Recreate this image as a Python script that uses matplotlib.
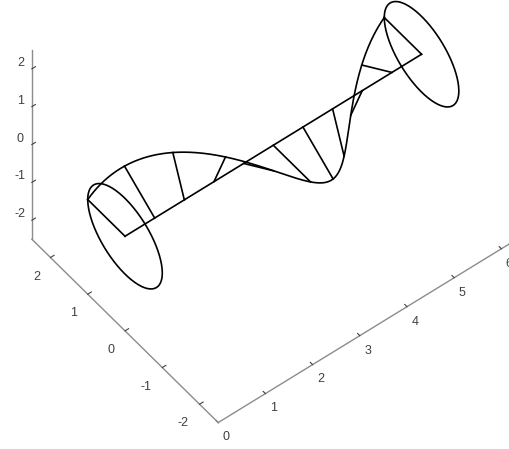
import numpy as np
import matplotlib
matplotlib.use("Agg")
import matplotlib.pyplot as plt

plt.rcParams["axes.unicode_minus"] = False
plt.rcParams["font.family"] = ["Liberation Sans", "DejaVu Sans"]

# Helix parameters: one full turn along x, radius 1
x_start = 0.0
x_end = 2 * np.pi
radius = 1.0
n_stems = 11

x_ticks = [0, 1, 2, 3, 4, 5, 6]
y_ticks = [-2, -1, 0, 1, 2]
z_ticks = [-2, -1, 0, 1, 2]

x_lim = (0, 2 * np.pi)
y_lim = (-2.5, 2.5)
z_lim = (-2.5, 2.5)

fig = plt.figure(figsize=(5.09, 4.49), dpi=100)
ax = fig.add_axes([0.025, 0.163, 1, 1], projection="3d", proj_type="ortho")

# helix curve
t = np.linspace(x_start, x_end, 400)
ax.plot(t, radius * np.cos(t), radius * np.sin(t), color="black", lw=1.2)

# end circles in the y-z plane
th = np.linspace(0, 2 * np.pi, 200)
for xc in (x_start, x_end):
    ax.plot(np.full_like(th, xc), radius * np.cos(th), radius * np.sin(th),
            color="black", lw=1.2)

# central axis
ax.plot([x_start, x_end], [0, 0], [0, 0], color="black", lw=1.2)

# radial stems from the axis to the helix
for xs in np.linspace(x_start, x_end, n_stems):
    ax.plot([xs, xs], [0, radius * np.cos(xs)], [0, radius * np.sin(xs)],
            color="black", lw=1.2)

ax.set_xlim(*x_lim)
ax.set_ylim(*y_lim)
ax.set_zlim(*z_lim)
ax.set_xticks(x_ticks)
ax.set_yticks(y_ticks)
ax.set_zticks(z_ticks)
ax.set_box_aspect((x_lim[1] - x_lim[0], y_lim[1] - y_lim[0],
                   z_lim[1] - z_lim[0]), zoom=1.23)
ax.view_init(elev=51, azim=-128.3)

ax.grid(False)
for axis in (ax.xaxis, ax.yaxis, ax.zaxis):
    axis.set_pane_color((1, 1, 1, 0))
    axis.pane.set_edgecolor((1, 1, 1, 0))
    axis.line.set_color("#8c8c8c")
    axis.line.set_linewidth(1.0)
    axis._axinfo["tick"]["color"] = "#8c8c8c"
    axis._axinfo["tick"]["inward_factor"] = 0.0
    axis._axinfo["tick"]["outward_factor"] = 0.15
ax.tick_params(labelsize=9, colors="#404040", pad=-4)
ax.yaxis.set_tick_params(pad=-2)

for lbl in ax.xaxis.get_ticklabels():
    lbl.set_horizontalalignment("left")
for lbl in ax.yaxis.get_ticklabels():
    lbl.set_horizontalalignment("right")
for lbl in ax.zaxis.get_ticklabels():
    lbl.set_verticalalignment("bottom")

fig.savefig("out.png", dpi=100)
